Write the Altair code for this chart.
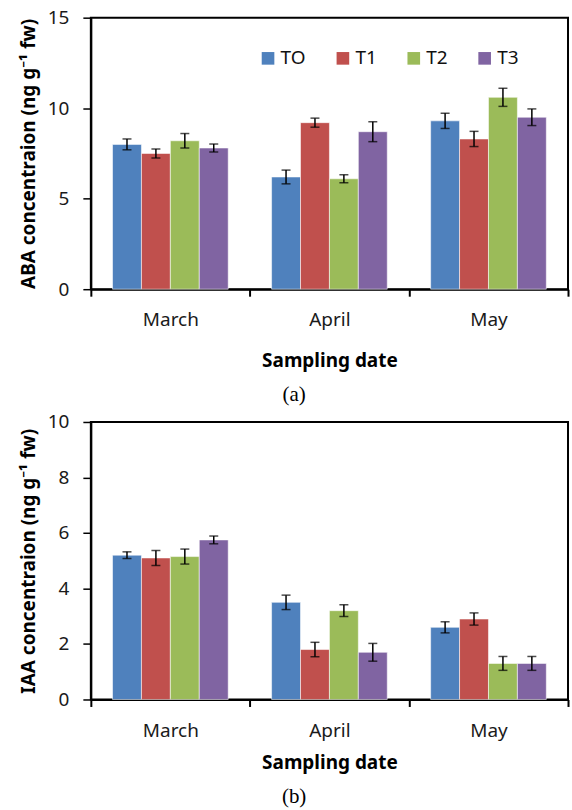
import altair as alt
import pandas as pd

months = ["March", "April", "May"]
treatments = ["TO", "T1", "T2", "T3"]
colors = ["#4F81BD", "#C0504D", "#9BBB59", "#8064A2"]

# ABA (panel a)
aba_TO = [8.0, 6.2, 9.3]
aba_T1 = [7.5, 9.2, 8.3]
aba_T2 = [8.2, 6.1, 10.6]
aba_T3 = [7.8, 8.7, 9.5]
aba_err_TO = [0.30, 0.38, 0.42]
aba_err_T1 = [0.25, 0.25, 0.42]
aba_err_T2 = [0.40, 0.22, 0.50]
aba_err_T3 = [0.22, 0.55, 0.46]

# IAA (panel b)
iaa_TO = [5.2, 3.5, 2.6]
iaa_T1 = [5.1, 1.8, 2.9]
iaa_T2 = [5.15, 3.2, 1.3]
iaa_T3 = [5.75, 1.7, 1.3]
iaa_err_TO = [0.12, 0.26, 0.20]
iaa_err_T1 = [0.27, 0.26, 0.22]
iaa_err_T2 = [0.27, 0.21, 0.25]
iaa_err_T3 = [0.14, 0.32, 0.25]


def make_df(vals, errs):
    rows = []
    for t, v, e in zip(treatments, vals, errs):
        for m, vv, ee in zip(months, v, e):
            rows.append({"Month": m, "Treatment": t, "Value": vv,
                         "lo": vv - ee, "hi": vv + ee})
    return pd.DataFrame(rows)


df_aba = make_df([aba_TO, aba_T1, aba_T2, aba_T3],
                 [aba_err_TO, aba_err_T1, aba_err_T2, aba_err_T3])
df_iaa = make_df([iaa_TO, iaa_T1, iaa_T2, iaa_T3],
                 [iaa_err_TO, iaa_err_T1, iaa_err_T2, iaa_err_T3])

LABEL_FONT = "Noto Sans"


def panel(df, ytitle, ymax, ystep, caption, height, lx, ly, xlabel_pad,
          xtitle_pad, cap_offset):
    x_enc = alt.X("Month:N", sort=months,
                  scale=alt.Scale(paddingInner=0, paddingOuter=0),
                  axis=alt.Axis(title="Sampling date", labelAngle=0,
                                tickBand="extent", tickSize=7, tickWidth=2,
                                tickColor="black", labelPadding=xlabel_pad,
                                titlePadding=xtitle_pad))
    xo_enc = alt.XOffset("Treatment:N", sort=treatments,
                         scale=alt.Scale(paddingInner=0, paddingOuter=0.75))
    y_axis = alt.Axis(title=ytitle, values=list(range(0, ymax + 1, ystep)),
                      tickSize=8, tickWidth=1.5, tickColor="black",
                      labelPadding=14, titlePadding=9, grid=False)
    y_scale = alt.Scale(domain=[0, ymax], nice=False)

    base = alt.Chart(df).encode(x=x_enc, xOffset=xo_enc)
    bars = base.mark_bar(stroke="white", strokeWidth=1, strokeOpacity=0.55).encode(
        y=alt.Y("Value:Q", scale=y_scale, axis=y_axis),
        color=alt.Color("Treatment:N", sort=treatments,
                        scale=alt.Scale(domain=treatments, range=colors),
                        legend=alt.Legend(title=None, orient="none",
                                          legendX=lx, legendY=ly,
                                          direction="horizontal",
                                          symbolType="square", symbolSize=160,
                                          symbolStrokeWidth=0, symbolOpacity=1,
                                          labelFontSize=19, labelFont=LABEL_FONT,
                                          labelColor="#111111", labelOffset=3,
                                          columnPadding=27, padding=0)),
    )
    rules = base.mark_rule(color="black", strokeWidth=1.5).encode(
        y=alt.Y("lo:Q", scale=y_scale, axis=y_axis), y2="hi:Q")
    cap_lo = base.mark_tick(color="black", size=9, thickness=1.5).encode(
        y=alt.Y("lo:Q", scale=y_scale, axis=y_axis))
    cap_hi = base.mark_tick(color="black", size=9, thickness=1.5).encode(
        y=alt.Y("hi:Q", scale=y_scale, axis=y_axis))
    return alt.layer(bars, rules, cap_lo, cap_hi).properties(
        width=478, height=height,
        title=alt.TitleParams(text=caption, orient="bottom", anchor="middle",
                              frame="bounds", font="Liberation Serif",
                              fontSize=21, fontWeight="normal", color="black",
                              offset=cap_offset))


top = panel(df_aba, "ABA concentraion (ng g⁻¹ fw)", 15, 5, "(a)", 272,
            168, 31, 14, 22, 14)
bottom = panel(df_iaa, "IAA concentraion (ng g⁻¹ fw)", 10, 2, "(b)", 278,
               210, 44, 15, 13, 14)

chart = alt.vconcat(top, bottom, spacing=6).properties(
    padding={"left": 18, "top": 7, "right": 2, "bottom": 0}
).configure_view(
    stroke="black", strokeWidth=2
).configure_axis(
    domainColor="black", domainWidth=2,
    labelFont=LABEL_FONT, labelFontSize=19, labelColor="#1a1a1a",
    titleFont=LABEL_FONT, titleFontSize=19, titleFontWeight="bold",
    titleColor="black"
).configure_axisX(
    titleFontSize=19
)

chart.save("out.html", embed_options={"renderer": "svg", "actions": False})
